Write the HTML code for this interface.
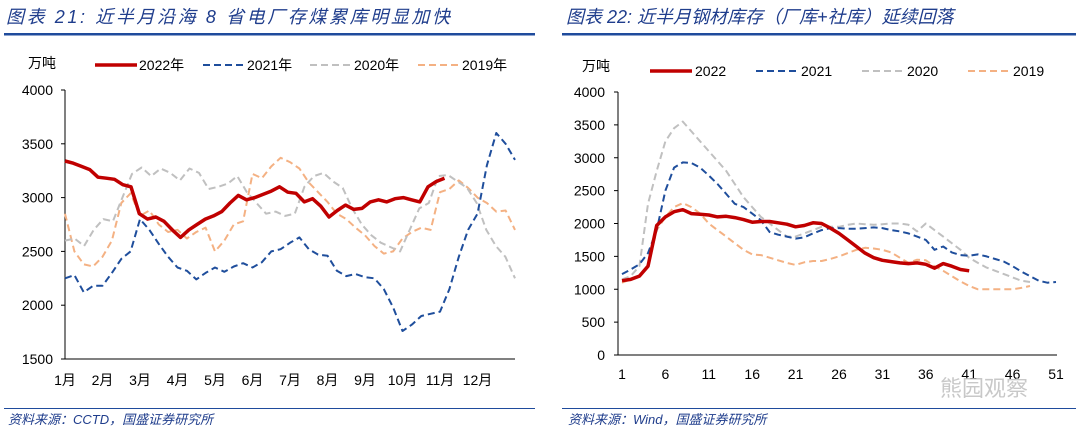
<!DOCTYPE html>
<html><head><meta charset="utf-8"><style>
body{margin:0;background:#fff;width:1080px;height:436px;overflow:hidden}
svg{display:block;font-family:"Liberation Sans","Noto Sans CJK SC",sans-serif}
.t{font-style:italic;fill:#1f3d8c;font-size:18px}
.ft{font-style:italic;fill:#1f3d8c;font-size:13px}
.tk{font-size:14px;fill:#000}
.lg{font-size:14px;fill:#000}
</style></head><body>
<svg id="s" width="1080" height="436" viewBox="0 0 1080 436">
<text class="t" x="6" y="23" letter-spacing="2.6">图表 21:  近半月沿海 8 省电厂存煤累库明显加快</text>
<rect x="4" y="33" width="531" height="2.5" fill="#1f4b9c"/>
<text class="t" x="566" y="23" font-size="17">图表 22:  近半月钢材库存（厂库+社库）延续回落</text>
<rect x="562" y="33" width="514" height="2.5" fill="#1f4b9c"/>
<rect x="4" y="408" width="531" height="1" fill="#1f4b9c"/>
<rect x="562" y="408" width="514" height="1" fill="#1f4b9c"/>
<text class="ft" x="8" y="424">资料来源：CCTD，国盛证券研究所</text>
<text class="ft" x="568" y="424">资料来源：Wind，国盛证券研究所</text>
<g id="L"></g><g id="R"></g>
<text x="940" y="396" font-size="22" fill="#bbb" opacity="0.8">熊园观察</text>
</svg>
<script>
// Left chart data (weekly)
const lMonths=["1月","2月","3月","4月","5月","6月","7月","8月","9月","10月","11月","12月"];
const lTicks=[1500,2000,2500,3000,3500,4000];
const l2022=[3340,3320,3290,3260,3190,3180,3170,3120,3100,2850,2800,2820,2780,2700,2630,2700,2750,2800,2830,2870,2950,3020,2980,3000,3030,3060,3100,3050,3040,2960,2990,2920,2820,2880,2930,2890,2900,2960,2980,2960,2990,3000,2980,2960,3100,3150,3180];
const l2021=[2250,2280,2120,2180,2180,2300,2430,2500,2800,2700,2570,2450,2350,2320,2240,2300,2350,2310,2360,2390,2350,2400,2500,2520,2580,2630,2520,2470,2460,2320,2270,2290,2260,2250,2150,1980,1760,1820,1900,1920,1940,2150,2450,2700,2850,3300,3600,3500,3350];
const l2020=[2600,2620,2550,2700,2800,2780,3000,3220,3280,3200,3270,3230,3160,3270,3230,3080,3100,3130,3200,3050,2950,2850,2870,2830,2850,3100,3200,3230,3150,3090,2900,2750,2650,2580,2540,2500,2700,2900,2950,3200,3210,3150,3090,2950,2700,2550,2450,2250];
const l2019=[2850,2500,2380,2360,2450,2600,2950,3040,2830,2880,2750,2680,2700,2620,2680,2720,2500,2600,2750,2780,3220,3180,3290,3370,3330,3270,3140,3050,2960,2850,2800,2720,2650,2550,2480,2500,2620,2680,2720,2700,3050,3080,3160,3090,3000,2950,2870,2880,2700];
// Right chart data (weeks)
const rTicks=[0,500,1000,1500,2000,2500,3000,3500,4000];
const rWeeks=[1,6,11,16,21,26,31,36,41,46,51];
const r2022=[1130,1150,1200,1350,1970,2100,2180,2210,2150,2140,2130,2100,2110,2090,2060,2020,2030,2030,2010,1990,1950,1970,2010,2000,1930,1850,1750,1650,1550,1480,1440,1420,1400,1390,1400,1380,1320,1390,1350,1300,1280];
const r2021=[1230,1300,1380,1550,1900,2500,2850,2930,2920,2850,2730,2600,2450,2300,2250,2150,2050,1870,1830,1800,1770,1790,1850,1900,1930,1930,1920,1920,1930,1940,1930,1900,1880,1850,1800,1750,1600,1650,1560,1520,1510,1530,1500,1460,1420,1350,1270,1200,1130,1100,1110];
const r2020=[1150,1200,1350,2300,2800,3250,3450,3550,3400,3250,3100,2950,2800,2600,2400,2250,2100,2000,1900,1800,1800,1850,1900,1950,1950,1950,1980,2000,1990,1980,1990,2000,2000,1980,1880,2000,1900,1800,1700,1600,1480,1400,1330,1280,1230,1180,1130,1110];
const r2019=[1100,1150,1200,1350,1900,2100,2250,2310,2250,2150,2000,1900,1800,1700,1600,1530,1520,1480,1440,1400,1370,1410,1430,1430,1460,1500,1550,1600,1630,1620,1600,1560,1480,1400,1450,1440,1350,1280,1200,1120,1050,1000,1000,1000,1000,1000,1020,1050];

const NS='http://www.w3.org/2000/svg';
function mk(p,tag,a){const e=document.createElementNS(NS,tag);for(const k in a)e.setAttribute(k,a[k]);p.appendChild(e);return e;}
const styles=[{c:'#c00000',w:3.5,d:''},{c:'#1f4e9c',w:2,d:'7,4'},{c:'#c0c0c0',w:2,d:'7,4'},{c:'#f4b183',w:2,d:'7,4'}];
const names=['2022','2021','2020','2019'];

// Left
const L=document.getElementById('L');
const lx=m=>65+m*37.5, ly=v=>359-(v-1500)*(269/2500);
let ax=mk(L,'path',{d:'M65,90V359H515',fill:'none',stroke:'#000','stroke-width':1});

lTicks.forEach(t=>{let e=mk(L,'text',{x:53,y:ly(t)+5,'text-anchor':'end',class:'tk'});e.textContent=t;

mk(L,'line',{x1:61,x2:65,y1:ly(t),y2:ly(t),stroke:'#000'});});
lMonths.forEach((m,i)=>{let e=mk(L,'text',{x:lx(i),y:385,'text-anchor':'middle',class:'tk'});e.textContent=m;
});
let u=mk(L,'text',{x:28,y:68,class:'tk','font-size':'12'});u.textContent='万吨';

[l2019,l2020,l2021,l2022].forEach((s,j)=>{const k=3-j;const st=styles[k];
 const step=k===0?0.22:12/(s.length-1);
 let p=mk(L,'path',{d:s.map((v,i)=>(i?'L':'M')+lx(i*step).toFixed(1)+','+ly(v).toFixed(1)).join(''),fill:'none',stroke:st.c,'stroke-width':st.w,'stroke-dasharray':st.d,'stroke-linejoin':'round'});
 });
const lLegX=[95,203,310,418];
names.forEach((n,k)=>{const st=styles[k];mk(L,'line',{x1:lLegX[k],x2:lLegX[k]+42,y1:65,y2:65,stroke:st.c,'stroke-width':st.w,'stroke-dasharray':st.d});
 let e=mk(L,'text',{x:lLegX[k]+44,y:70,class:'lg'});e.textContent=n+'年';
 });

// Right
const R=document.getElementById('R');
const rx=w=>622+(w-1)*8.68, ry=v=>355-v*(263/4000);
let ax2=mk(R,'path',{d:'M618,92V355H1057',fill:'none',stroke:'#000','stroke-width':1});

rTicks.forEach(t=>{let e=mk(R,'text',{x:605,y:ry(t)+5,'text-anchor':'end',class:'tk'});e.textContent=t;

mk(R,'line',{x1:614,x2:618,y1:ry(t),y2:ry(t),stroke:'#000'});});
rWeeks.forEach(w=>{let e=mk(R,'text',{x:rx(w),y:354+25,'text-anchor':'middle',class:'tk'});e.textContent=w;
});
let u2=mk(R,'text',{x:582,y:71,class:'tk','font-size':'12'});u2.textContent='万吨';

[r2019,r2020,r2021,r2022].forEach((s,j)=>{const k=3-j;const st=styles[k];
 let p=mk(R,'path',{d:s.map((v,i)=>(i?'L':'M')+rx(i+1).toFixed(1)+','+ry(v).toFixed(1)).join(''),fill:'none',stroke:st.c,'stroke-width':st.w,'stroke-dasharray':st.d,'stroke-linejoin':'round'});
 });
const rLegX=[650,756,862,968];
names.forEach((n,k)=>{const st=styles[k];mk(R,'line',{x1:rLegX[k],x2:rLegX[k]+42,y1:71,y2:71,stroke:st.c,'stroke-width':st.w,'stroke-dasharray':st.d});
 let e=mk(R,'text',{x:rLegX[k]+45,y:76,class:'lg'});e.textContent=n;
 });
</script>
</body></html>
